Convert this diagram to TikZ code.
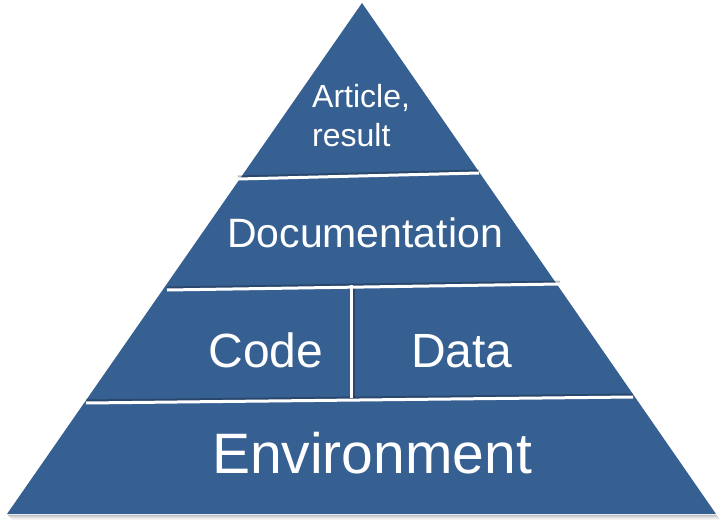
\documentclass[tikz,border=0pt]{standalone}
\usepackage{fontspec}
\setmainfont{Liberation Sans}
\begin{document}
\begin{tikzpicture}[x=1bp,y=-1bp,
  layer/.style={fill=pyr},
  divider/.style={draw=white,line width=3bp},
  dshadow/.style={draw=black,opacity=0.25,line width=3bp},
  lbl/.style={text=white,inner sep=0pt,anchor=base}]
\definecolor{pyr}{HTML}{376092}
\useasboundingbox (0,0) rectangle (724,526);
% soft shadow of base
\foreach \d/\o in {1/0.25,2/0.18,3/0.12,4/0.07,5/0.04}{
  \draw[black,opacity=\o,line width=1bp] (7+\d,514+\d) -- (716+\d,514+\d);
}
\coordinate (apex) at (362,3);
\coordinate (bl) at (7,514);
\coordinate (br) at (716,514);
\fill[pyr] (apex) -- (br) -- (bl) -- cycle;
% dividers
\coordinate (a1) at (238,179); \coordinate (a2) at (479,173);
\coordinate (b1) at (167,290); \coordinate (b2) at (560,284);
\coordinate (c1) at (86,403);  \coordinate (c2) at (633,397);
\coordinate (v1) at (351,285); \coordinate (v2) at (351,398);
\foreach \p/\q in {a1/a2,b1/b2,c1/c2}{
  \draw[dshadow] ([yshift=2bp]\p) -- ([yshift=2bp]\q);
}
\draw[dshadow] ([xshift=2bp]v1) -- ([xshift=2bp]v2);
\foreach \p/\q in {a1/a2,b1/b2,c1/c2,v1/v2}{
  \draw[divider] (\p) -- (\q);
}
% labels
\node[lbl,anchor=base west] (art) at (312,108) {\fontsize{32bp}{39bp}\selectfont Article,};
\node[lbl,anchor=base west] (res) at (312,147) {\fontsize{32bp}{39bp}\selectfont result};
\node[lbl] (doc) at (365,248) {\fontsize{41bp}{49bp}\selectfont Documentation};
\node[lbl] (code) at (266,367) {\fontsize{48bp}{58bp}\selectfont Code};
\node[lbl] (data) at (462,367) {\fontsize{48bp}{58bp}\selectfont Data};
\node[lbl] (env) at (372,473) {\fontsize{57bp}{68bp}\selectfont Environment};
\end{tikzpicture}
\end{document}
